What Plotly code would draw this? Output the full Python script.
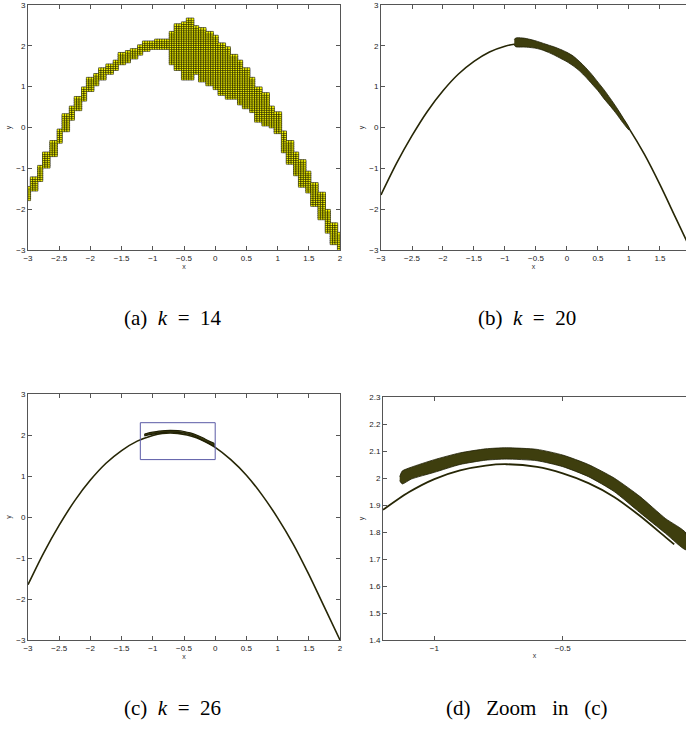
import numpy as np
import plotly.graph_objects as go

# ---------------- data ----------------
# (a) k = 14 : box covering, given per x-column (step 0.1) as lower / upper y extent
cov_x = [-3.0, -2.9, -2.8, -2.7, -2.6, -2.5, -2.4, -2.3, -2.2, -2.1, -2.0, -1.9, -1.8, -1.7,
         -1.6, -1.5, -1.4, -1.3, -1.2, -1.1, -1.0, -0.9, -0.8, -0.7, -0.6, -0.5, -0.4, -0.3,
         -0.2, -0.1, 0.0, 0.1, 0.2, 0.3, 0.4, 0.5, 0.6, 0.7, 0.8, 0.9, 1.0, 1.1, 1.2, 1.3,
         1.4, 1.5, 1.6, 1.7, 1.8, 1.9, 2.0]
cov_hi = [-1.47, -1.24, -0.92, -0.63, -0.31, -0.06, 0.31, 0.51, 0.76, 1.00, 1.20, 1.33, 1.45, 1.57,
          1.65, 1.82, 1.86, 1.94, 2.02, 2.10, 2.10, 2.14, 2.14, 2.35, 2.55, 2.57, 2.67, 2.47,
          2.43, 2.35, 2.27, 2.06, 1.98, 1.78, 1.65, 1.45, 1.24, 0.98, 0.84, 0.51, 0.39, -0.10,
          -0.35, -0.63, -0.80, -1.08, -1.37, -1.61, -2.02, -2.35, -2.59]
cov_lo = [-1.76, -1.53, -1.29, -1.00, -0.71, -0.39, -0.10, 0.18, 0.43, 0.67, 0.88, 1.04, 1.16, 1.29,
          1.41, 1.53, 1.61, 1.69, 1.78, 1.86, 1.90, 1.94, 1.91, 1.57, 1.41, 1.16, 1.18, 1.29,
          1.12, 1.02, 0.96, 0.80, 0.71, 0.69, 0.55, 0.47, 0.39, 0.14, 0.06, 0.00, -0.14, -0.63,
          -0.88, -1.16, -1.45, -1.61, -1.94, -2.27, -2.59, -2.88, -3.00]

# curve (b), (c)
curve_x = [-3.0, -2.75, -2.5, -2.25, -2.0, -1.75, -1.5, -1.25, -1.0, -0.85, -0.72, -0.6, -0.45,
           -0.3, -0.15, 0.0, 0.25, 0.5, 0.75, 1.0, 1.25, 1.5, 1.75, 2.0]
curve_y = [-1.65, -0.88, -0.20, 0.40, 0.90, 1.31, 1.62, 1.85, 1.99, 2.04, 2.05, 2.04, 2.00,
           1.93, 1.83, 1.70, 1.40, 1.02, 0.54, -0.02, -0.66, -1.40, -2.20, -3.00]

# (b) k = 20 : covering band
bandb_x = [-0.85, -0.83, -0.8, -0.7, -0.6, -0.5, -0.4, -0.3, -0.2, -0.1, 0.0, 0.1, 0.2, 0.3, 0.4,
           0.5, 0.6, 0.7, 0.8, 0.9, 1.0]
bandb_hi = [2.15, 2.19, 2.20, 2.19, 2.16, 2.12, 2.07, 2.02, 1.97, 1.91, 1.84, 1.75, 1.62, 1.47, 1.30,
            1.11, 0.92, 0.71, 0.49, 0.25, 0.00]
bandb_lo = [2.02, 1.98, 1.97, 1.97, 1.96, 1.94, 1.90, 1.84, 1.77, 1.69, 1.61, 1.51, 1.39, 1.24, 1.07,
            0.90, 0.70, 0.52, 0.33, 0.12, -0.06]

# (c)/(d) k = 26 : covering band
band_x = [-1.135, -1.125, -1.09, -1.0, -0.9, -0.8, -0.72, -0.6, -0.5, -0.4, -0.3, -0.2, -0.1, -0.02]
band_hi = [2.005, 2.026, 2.040, 2.068, 2.093, 2.108, 2.112, 2.106, 2.085, 2.050, 2.000, 1.932, 1.850, 1.796]
band_lo = [1.990, 1.978, 1.996, 2.021, 2.050, 2.066, 2.070, 2.064, 2.042, 2.005, 1.950, 1.872, 1.795, 1.734]

# (d) zoomed curve
curved_x = [-1.2, -1.1, -1.0, -0.9, -0.8, -0.72, -0.6, -0.5, -0.4, -0.3, -0.2, -0.1, -0.066]
curved_y = [1.882, 1.947, 1.996, 2.028, 2.046, 2.051, 2.041, 2.017, 1.981, 1.930, 1.860, 1.781, 1.754]

# tick labels
ticks_x_full = [-3, -2.5, -2, -1.5, -1, -0.5, 0, 0.5, 1, 1.5, 2]
ticks_y_full = [-3, -2, -1, 0, 1, 2, 3]
ticks_x_zoom = [-1, -0.5]
ticks_y_zoom = [1.4, 1.5, 1.6, 1.7, 1.8, 1.9, 2.0, 2.1, 2.2, 2.3]
SP = "\u2002"
SP2 = "\u2002\u2005"
captions = ["(a)" + SP + "<i>k</i>" + SP + "=" + SP + "14",
            "(b)" + SP + "<i>k</i>" + SP + "=" + SP + "20",
            "(c)" + SP + "<i>k</i>" + SP + "=" + SP + "26",
            "(d)" + SP2 + "Zoom" + SP2 + "in" + SP2 + "(c)"]

# ---------------- build box covering for (a) ----------------
NX, NY = 128, 128
bw, bh = 5.0 / NX, 6.0 / NY
box_x, box_y = [], []
for i in range(NX):
    xc = -3 + (i + 0.5) * bw
    j = int(round((xc - cov_x[0]) / 0.1))
    j = max(0, min(len(cov_x) - 1, j))
    lo, hi = cov_lo[j], cov_hi[j]
    for r in range(NY):
        yc = -3 + (r + 0.5) * bh
        if lo <= yc <= hi:
            box_x.append(xc)
            box_y.append(yc)


def lab(v):
    s = ("%g" % v)
    return s.replace("-", "\u2212")


W, H = 686, 729
def px(v):
    return v / W
def py(v):
    return 1 - v / H

CURVE_COL = "rgb(38,38,5)"
BAND_FILL = "rgb(62,62,14)"
BAND_LINE = "rgb(30,30,4)"

fig = go.Figure()

# (a)
fig.add_trace(go.Scatter(x=box_x, y=box_y, mode="markers", xaxis="x", yaxis="y",
                         marker=dict(symbol="square", size=2.7, color="#ffff00",
                                     line=dict(width=0.55, color="black")),
                         hoverinfo="skip"))
# (b)
fig.add_trace(go.Scatter(x=curve_x, y=curve_y, mode="lines", xaxis="x2", yaxis="y2",
                         line=dict(color=CURVE_COL, width=1.6, shape="spline", smoothing=0.8)))
fig.add_trace(go.Scatter(x=bandb_x + bandb_x[::-1], y=bandb_hi + bandb_lo[::-1], mode="lines",
                         xaxis="x2", yaxis="y2", fill="toself", fillcolor=BAND_FILL,
                         line=dict(color=BAND_LINE, width=0.8, shape="spline", smoothing=0.6)))
# (c)
fig.add_trace(go.Scatter(x=curve_x, y=curve_y, mode="lines", xaxis="x3", yaxis="y3",
                         line=dict(color=CURVE_COL, width=1.6, shape="spline", smoothing=0.8)))
fig.add_trace(go.Scatter(x=band_x + band_x[::-1], y=band_hi + band_lo[::-1], mode="lines",
                         xaxis="x3", yaxis="y3", fill="toself", fillcolor=BAND_FILL,
                         line=dict(color=BAND_LINE, width=1.2, shape="spline", smoothing=0.6)))
# (d)
fig.add_trace(go.Scatter(x=curved_x, y=curved_y, mode="lines", xaxis="x4", yaxis="y4",
                         line=dict(color=CURVE_COL, width=1.8, shape="spline", smoothing=0.8)))
fig.add_trace(go.Scatter(x=band_x + band_x[::-1], y=band_hi + band_lo[::-1], mode="lines",
                         xaxis="x4", yaxis="y4", fill="toself", fillcolor=BAND_FILL,
                         line=dict(color=BAND_LINE, width=0.8, shape="spline", smoothing=0.6)))

TF = dict(family="Liberation Sans, Arial, sans-serif", size=8, color="#222")
def axis(domain, rng, tv, anchor, mirror=True, title="", standoff=2):
    return dict(domain=domain, range=rng, anchor=anchor, tickvals=tv, automargin=False,
                ticktext=[lab(v) for v in tv], ticks="inside", ticklen=4,
                tickcolor="#555", tickwidth=1, showline=True, linecolor="#555", linewidth=1,
                mirror="ticks" if mirror else False, showgrid=False, zeroline=False,
                tickfont=TF, title=dict(text=title, font=dict(family="Liberation Sans, Arial, sans-serif", size=7, color="#333"), standoff=standoff))

# domains (pixels -> paper)
xa = [px(28), px(340)]
xb = [px(381), 1.0]
ytop = [py(250), py(5)]
yc_ = [py(640), py(394)]
xd = [px(383), 1.0]
yd = [py(640), py(397)]

fig.update_layout(
    width=W, height=H, margin=dict(l=0, r=0, t=0, b=0, autoexpand=False),
    paper_bgcolor="white", plot_bgcolor="white", showlegend=False,
    xaxis=axis(xa, [-3, 2], ticks_x_full, "y", title="x", standoff=1),
    yaxis=axis(ytop, [-3, 3], ticks_y_full, "x", title="y", standoff=3),
    xaxis2=axis(xb, [-3, 1.92], ticks_x_full[:-1], "y2", title="x", standoff=1),
    yaxis2=axis(ytop, [-3, 3], ticks_y_full, "x2", mirror=False, title="y", standoff=3),
    xaxis3=axis(xa, [-3, 2], ticks_x_full, "y3", title="x", standoff=1),
    yaxis3=axis(yc_, [-3, 3], ticks_y_full, "x3", title="y", standoff=3),
    xaxis4=axis(xd, [-1.2, -0.02], ticks_x_zoom, "y4", title="x", standoff=1),
    yaxis4=axis(yd, [1.4, 2.3], ticks_y_zoom, "x4", mirror=False, title="y", standoff=3),
)

fig.add_shape(type="rect", xref="x3", yref="y3", x0=-1.2, x1=0, y0=1.4, y1=2.3,
              line=dict(color="#5a5aa6", width=1))

cap_pos = [(172, 318), (527, 318), (172, 708), (527, 708)]
for t, (cx, cy) in zip(captions, cap_pos):
    fig.add_annotation(text=t, x=px(cx), y=py(cy), xref="paper", yref="paper",
                       showarrow=False, xanchor="center", yanchor="middle",
                       font=dict(family="Liberation Serif, DejaVu Serif, serif", size=21, color="black"))

fig.write_html("out.html", config={"displayModeBar": False},
               post_script="document.body.style.margin='0';document.body.style.overflow='hidden';")
